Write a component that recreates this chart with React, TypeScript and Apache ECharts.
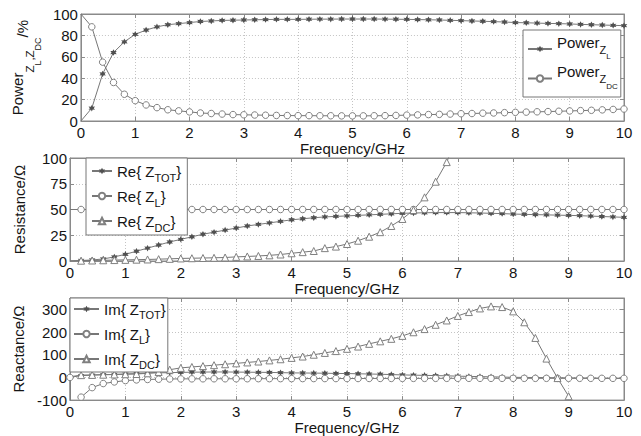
import React, { useEffect, useRef } from "react";
import * as echarts from "echarts";

const freq = [0, 0.2, 0.4, 0.6, 0.8, 1, 1.2, 1.4, 1.6, 1.8, 2, 2.2, 2.4, 2.6, 2.8, 3, 3.2, 3.4, 3.6, 3.8, 4, 4.2, 4.4, 4.6, 4.8, 5, 5.2, 5.4, 5.6, 5.8, 6, 6.2, 6.4, 6.6, 6.8, 7, 7.2, 7.4, 7.6, 7.8, 8, 8.2, 8.4, 8.6, 8.8, 9, 9.2, 9.4, 9.6, 9.8, 10];

const powerZL = [0, 12, 44, 64, 74, 81, 85, 88, 90, 91, 92, 93, 93.5, 94, 94.2, 94.4, 94.6, 94.8, 95, 95, 95, 95.1, 95.2, 95.2, 95.3, 95.3, 95.3, 95.3, 95.2, 95.1, 95, 94.8, 94.6, 94.4, 94.1, 93.8, 93.5, 93.2, 92.9, 92.5, 92, 91.8, 91.5, 91.2, 91, 90.7, 90.3, 90, 89.7, 89.4, 89.1];
const powerZDC = [100, 88, 55, 36, 25, 19, 15, 12.5, 10.5, 9.5, 8.5, 7.5, 7, 6.5, 6, 5.8, 5.6, 5.4, 5.2, 5.1, 5, 5, 4.9, 4.9, 4.8, 4.8, 4.8, 4.9, 5, 5.2, 5.5, 5.7, 6, 6.2, 6.5, 6.8, 7, 7.3, 7.5, 7.8, 8.1, 8.3, 8.6, 8.8, 9.1, 9.4, 9.7, 10, 10.4, 10.8, 11.2];

const reZTOT = [0, 0.5, 1, 2, 4, 6.5, 9.5, 12.5, 15.5, 18.5, 21, 23.5, 26, 28, 30, 32, 34, 35.5, 37, 38.5, 40, 41, 42, 42.8, 43.3, 43.8, 44.3, 44.8, 45.3, 45.8, 46.3, 46.6, 46.8, 47, 47, 47, 46.8, 46.6, 46.3, 46, 45.6, 45.3, 45, 44.8, 44.5, 44.3, 44, 43.6, 43.2, 42.8, 42.4];
const reZL = [50, 50, 50, 50, 50, 50, 50, 50, 50, 50, 50, 50, 50, 50, 50, 50, 50, 50, 50, 50, 50, 50, 50, 50, 50, 50, 50, 50, 50, 50, 50, 50, 50, 50, 50, 50, 50, 50, 50, 50, 50, 50, 50, 50, 50, 50, 50, 50, 50, 50, 50];
const reZDC = [0, 0.3, 0.5, 0.7, 0.9, 1.1, 1.3, 1.5, 1.8, 2.1, 2.5, 2.7, 2.9, 3.1, 3.4, 4, 4.4, 4.9, 5.5, 6.3, 7.5, 8.6, 9.7, 12.5, 14, 16.5, 19.7, 23.6, 28, 34, 40.8, 49.5, 61.8, 77, 96, 122];

const imZTOT = [0, 8, 10, 12, 13, 15, 17, 19, 20, 21, 22, 23, 23.5, 24, 24, 23.5, 23, 22.5, 22, 21, 20, 19.5, 19, 18.5, 17.5, 17, 16, 15, 14, 12.5, 11, 10, 9, 8, 7, 5.5, 4.5, 3.5, 2.5, 1.5, 0.5, 0, -0.5, -1, -1.5, -2, -2.5, -3, -3.5, -3.8, -4];
const imZL = [0, -87, -45, -27, -20, -14, -11, -9, -8, -7, -6.5, -6.3, -6.1, -6, -6, -6, -5.8, -5.6, -5.5, -5.4, -5.3, -5.2, -5, -5, -5, -5, -4.8, -4.6, -4.5, -4.4, -4.3, -4.2, -4.2, -4.1, -4.1, -4, -4, -4, -4, -4, -4, -4, -4, -4, -4, -4, -4, -4, -4, -4, -4];
const imZLNearZeroFreq = [0.02, 0.1];
const imZLNearZero = [-1000, -200];
const imZDC = [3, 10, 11, 12, 13, 14, 15, 18, 24, 34, 42, 46, 50, 54, 58, 62, 66, 70, 75, 80, 86, 92, 100, 108, 116, 126, 136, 148, 159, 170, 183, 199, 213, 232, 251, 271, 288, 304, 313, 310, 291, 243, 174, 83, -3, -83, -165];

const powerTicks = { min: 0, max: 100, interval: 20 };
const resTicks = { min: 0, max: 100, interval: 25 };
const reacTicks = { min: -100, max: 350, interval: 100 };

const FONT = "'Liberation Sans', Arial, Helvetica, sans-serif";
const TXT = "#151515";
const AX = "#8a8a8a";
const LINE = "#777777";
const STAR = "path://M0,-5L1.3,-2.2L4.3,-2.5L2.6,0L4.3,2.5L1.3,2.2L0,5L-1.3,2.2L-4.3,2.5L-2.6,0L-4.3,-2.5L-1.3,-2.2Z";

const base = { fontFamily: FONT, color: TXT };
// Legend with nested subscripts (Power_{Z_L})
const richPow = {
  pm: { ...base, fontSize: 15, verticalAlign: "bottom", padding: [0, 0, 13.5, 0] },
  ps: { ...base, fontSize: 11, verticalAlign: "bottom", padding: [0, 0, 8, 0] },
  pss: { ...base, fontSize: 8, verticalAlign: "bottom", padding: [0, 0, 2.5, 0] },
};
// Legend with single subscript (Re{ Z_TOT})
const richSub = {
  m: { ...base, fontSize: 15 },
  s: { ...base, fontSize: 11, verticalAlign: "bottom", padding: [0, 0, 0, 0] },
};
// Rotated y-axis name Power_{Z_L,Z_DC}/%
const richName = {
  ym: { ...base, fontSize: 15, verticalAlign: "bottom", padding: [0, 0, 17.5, 0] },
  ys: { ...base, fontSize: 11.5, verticalAlign: "bottom", padding: [0, 0, 6, 0] },
  yss: { ...base, fontSize: 9, verticalAlign: "bottom", padding: [0, 0, 0, 0] },
  yp: { ...base, fontSize: 15, verticalAlign: "bottom", padding: [0, 0, 12, 0] },
};

const legendText: Record<string, string> = {
  "Power Z_L": "{pm|Power}{ps|Z}{pss|L}",
  "Power Z_DC": "{pm|Power}{ps|Z}{pss|DC}",
  "Re{ Z_TOT}": "{m|Re{ Z}{s|TOT}}",
  "Re{ Z_L}": "{m|Re{ Z}{s|L}}",
  "Re{ Z_DC}": "{m|Re{ Z}{s|DC}}",
  "Im{ Z_TOT}": "{m|Im{ Z}{s|TOT}}",
  "Im{ Z_L}": "{m|Im{ Z}{s|L}}",
  "Im{ Z_DC}": "{m|Im{ Z}{s|DC}}",
};

function pairs(vals: number[], hideFirst: boolean) {
  return vals.map((v, i) =>
    i === 0 && hideFirst ? { value: [freq[i], v], symbol: "none" } : [freq[i], v]
  );
}

function xAxes(gridIndex: number, nameGap: number) {
  return [
    {
      type: "value", gridIndex, min: 0, max: 10, interval: 1, position: "bottom",
      name: "Frequency/GHz", nameLocation: "middle", nameGap,
      nameTextStyle: { fontSize: 15, fontFamily: FONT, color: TXT },
      axisLine: { show: true, onZero: false, lineStyle: { color: AX } },
      axisTick: { show: true, inside: true, length: 4, lineStyle: { color: AX } },
      axisLabel: { fontSize: 15, fontFamily: FONT, color: TXT, margin: 4 },
      splitLine: { show: true, lineStyle: { type: [1, 2], color: "#c4c4c4" } },
    },
    {
      type: "value", gridIndex, min: 0, max: 10, interval: 1, position: "top",
      axisLine: { show: true, onZero: false, lineStyle: { color: AX } },
      axisTick: { show: true, inside: true, length: 4, lineStyle: { color: AX } },
      axisLabel: { show: false },
      splitLine: { show: false },
    },
  ];
}

function yAxes(gridIndex: number, ticks: { min: number; max: number; interval: number }, name: string, nameGap: number, richName?: any) {
  return [
    {
      type: "value", gridIndex, ...ticks, position: "left",
      name, nameLocation: "middle", nameGap, nameRotate: 90,
      nameTextStyle: richName
        ? { fontSize: 15, fontFamily: FONT, color: TXT, lineHeight: 34, rich: richName }
        : { fontSize: 15, fontFamily: FONT, color: TXT },
      axisLine: { show: true, onZero: false, lineStyle: { color: AX } },
      axisTick: { show: true, inside: true, length: 4, lineStyle: { color: AX } },
      axisLabel: { fontSize: 15, fontFamily: FONT, color: TXT, margin: 3, showMaxLabel: ticks.max % ticks.interval === 0 },
      splitLine: { show: true, lineStyle: { type: [1, 2], color: "#c4c4c4" } },
    },
    {
      type: "value", gridIndex, ...ticks, position: "right",
      axisLine: { show: true, onZero: false, lineStyle: { color: AX } },
      axisTick: { show: true, inside: true, length: 4, lineStyle: { color: AX } },
      axisLabel: { show: false },
      splitLine: { show: false },
    },
  ];
}

function series(name: string, data: any[], axis: number, kind: "star" | "circle" | "tri") {
  const symbol = kind === "star" ? STAR : kind === "circle" ? "circle" : "triangle";
  return {
    type: "line", name, data, xAxisIndex: axis, yAxisIndex: axis,
    symbol, symbolSize: kind === "star" ? 6.5 : kind === "circle" ? 6.5 : 7, showSymbol: true,
    lineStyle: { color: LINE, width: 1 },
    itemStyle: kind === "star"
      ? { color: "#505050", borderWidth: 0 }
      : { color: "#ffffff", borderColor: "#808080", borderWidth: 1 },
    clip: true, z: 3,
  };
}

function legend(left: number, top: number, data: string[], opts: { itemGap: number; itemWidth: number; padding: number[]; lineHeight: number; rich: any }) {
  return {
    left, top, orient: "vertical", data, itemGap: opts.itemGap, itemWidth: opts.itemWidth, itemHeight: 8,
    padding: opts.padding, borderColor: "#777", borderWidth: 1, backgroundColor: "#fff",
    selectedMode: false,
    textStyle: { fontSize: 15, fontFamily: FONT, color: TXT, lineHeight: opts.lineHeight, rich: opts.rich },
    formatter: (n: string) => legendText[n] || n,
  };
}

const imZLData: any[] = [[freq[0], imZL[0]]];
imZLNearZeroFreq.forEach((f, i) => imZLData.push({ value: [f, imZLNearZero[i]], symbol: "none" }));
imZL.forEach((v, i) => { if (i > 0) imZLData.push([freq[i], v]); });

const option = {
  animation: false,
  backgroundColor: "#fff",
  grid: [
    { left: 70, right: 17, top: 14, height: 107, show: true, borderColor: AX, borderWidth: 1 },
    { left: 70, right: 17, top: 158, height: 103, show: true, borderColor: AX, borderWidth: 1 },
    { left: 70, right: 17, top: 298, height: 104, show: true, borderColor: AX, borderWidth: 1 },
  ],
  xAxis: [...xAxes(0, 18), ...xAxes(1, 17), ...xAxes(2, 19)],
  yAxis: [
    ...yAxes(0, powerTicks, "{ym|Power}{ys|Z}{yss|L}{ys|,Z}{yss|DC}{yp|/%}", 26, richName),
    ...yAxes(1, resTicks, "Resistance/Ω", 43),
    ...yAxes(2, reacTicks, "Reactance/Ω", 43),
  ],
  legend: [
    legend(523, 30, ["Power Z_L", "Power Z_DC"], { itemGap: 1, itemWidth: 24, padding: [4.5, 3, 4.5, 4], lineHeight: 28, rich: richPow }),
    legend(86, 158, ["Re{ Z_TOT}", "Re{ Z_L}", "Re{ Z_DC}"], { itemGap: 1, itemWidth: 20, padding: [1, 6, 2, 5], lineHeight: 24, rich: richSub }),
    legend(70, 298, ["Im{ Z_TOT}", "Im{ Z_L}", "Im{ Z_DC}"], { itemGap: 3, itemWidth: 25, padding: [0, 2, 2, 3], lineHeight: 22, rich: richSub }),
  ],
  series: [
    series("Power Z_L", pairs(powerZL, true), 0, "star"),
    series("Power Z_DC", pairs(powerZDC, true), 0, "circle"),
    series("Re{ Z_TOT}", pairs(reZTOT, true), 2, "star"),
    series("Re{ Z_L}", pairs(reZL, true), 2, "circle"),
    series("Re{ Z_DC}", pairs(reZDC, true), 2, "tri"),
    series("Im{ Z_TOT}", pairs(imZTOT, true), 4, "star"),
    series("Im{ Z_L}", imZLData, 4, "circle"),
    series("Im{ Z_DC}", pairs(imZDC, true), 4, "tri"),
  ],
};

export default function App() {
  const ref = useRef<HTMLDivElement>(null);
  useEffect(() => {
    const chart = echarts.init(ref.current!, null, { renderer: "svg" });
    chart.setOption(option as any);
    return () => chart.dispose();
  }, []);
  return <div ref={ref} style={{ position: "absolute", left: 0, top: 0, width: 641, height: 436 }} />;
}
